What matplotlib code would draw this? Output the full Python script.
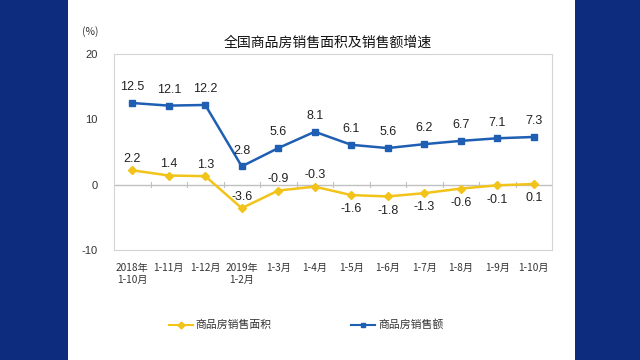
import matplotlib
matplotlib.use("Agg")
import matplotlib.pyplot as plt
from matplotlib.patches import Rectangle
from matplotlib.lines import Line2D

plt.rcParams["font.family"] = ["Liberation Sans", "Noto Sans CJK SC", "DejaVu Sans"]
plt.rcParams["axes.unicode_minus"] = False

categories = ["2018年\n1-10月", "1-11月", "1-12月", "2019年\n1-2月", "1-3月", "1-4月",
              "1-5月", "1-6月", "1-7月", "1-8月", "1-9月", "1-10月"]
area_growth = [2.2, 1.4, 1.3, -3.6, -0.9, -0.3, -1.6, -1.8, -1.3, -0.6, -0.1, 0.1]
sales_growth = [12.5, 12.1, 12.2, 2.8, 5.6, 8.1, 6.1, 5.6, 6.2, 6.7, 7.1, 7.3]
area_label_below = [False, False, False, False, False, False, True, True, True, True, True, True]

BLUE = "#1e5fb3"
YELLOW = "#f2c318"
CJK = ["Noto Sans CJK SC", "DejaVu Sans"]

fig = plt.figure(figsize=(6.4, 3.6), dpi=100)
fig.patch.set_facecolor("#0d2c7e")
fig.patches.append(Rectangle((68 / 640, 0), (575 - 68) / 640, 1, transform=fig.transFigure,
                             facecolor="white", edgecolor="none", zorder=-5))

ax = fig.add_axes([114 / 640, 1 - 250 / 360, 438 / 640, 196 / 360])
ax.set_zorder(5)
ax.set_facecolor("white")
x = list(range(len(categories)))

ax.axhline(0, color="#c0c0c0", lw=1, zorder=1)
for i in range(len(categories) - 1):
    ax.plot([i + 0.5, i + 0.5], [-0.35, 0.35], color="#c0c0c0", lw=0.8, zorder=1)

ax.plot(x, area_growth, color=YELLOW, lw=1.8, marker="D", ms=4.5, zorder=3)
ax.plot(x, sales_growth, color=BLUE, lw=1.8, marker="s", ms=4.5, zorder=3)

for i, v in enumerate(sales_growth):
    ax.annotate(f"{v:.1f}", (i, v), xytext=(0, 7), textcoords="offset points",
                ha="center", va="bottom", fontsize=9, color="#222222")
for i, v in enumerate(area_growth):
    if area_label_below[i]:
        ax.annotate(f"{v:.1f}", (i, v), xytext=(0, -6), textcoords="offset points",
                    ha="center", va="top", fontsize=9, color="#222222")
    else:
        ax.annotate(f"{v:.1f}", (i, v), xytext=(0, 4), textcoords="offset points",
                    ha="center", va="bottom", fontsize=9, color="#222222")

ax.set_xlim(-0.5, len(categories) - 0.5)
ax.set_ylim(-10, 20)
ax.set_yticks([-10, 0, 10, 20])
ax.set_xticks(x)
ax.set_xticklabels(categories, family=CJK, fontsize=7.3, color="#333333", linespacing=1.25)
ax.tick_params(axis="both", length=0, colors="#333333")
ax.tick_params(axis="y", labelsize=8, pad=12)
ax.tick_params(axis="x", pad=9)
for lbl in ax.get_xticklabels():
    lbl.set_verticalalignment("top")
for s in ax.spines.values():
    s.set_color("#d4d4d4")
    s.set_linewidth(0.8)

fig.text(90 / 640, 1 - 32 / 360, "(%)", fontsize=7.5, color="#333333", ha="center", va="center",
         family=CJK)
fig.text(328 / 640, 1 - 43 / 360, "全国商品房销售面积及销售额增速", fontsize=10, color="#111111",
         ha="center", va="center", family=CJK)

handles = [Line2D([], [], color=YELLOW, lw=1.5, marker="D", ms=3.5),
           Line2D([], [], color=BLUE, lw=1.5, marker="s", ms=3.5)]
fig.legend(handles, ["商品房销售面积", "商品房销售额"], loc="center", ncol=2,
           bbox_to_anchor=(306 / 640, 1 - 325 / 360), frameon=False,
           prop={"family": CJK, "size": 7.8}, columnspacing=7.3, handlelength=2.2,
           handletextpad=0.3, labelcolor="#333333")

fig.savefig("out.png", dpi=100, facecolor=fig.get_facecolor())
